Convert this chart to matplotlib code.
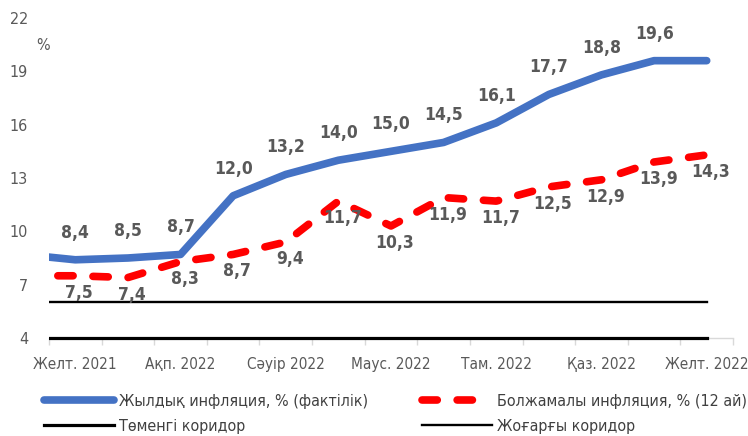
import matplotlib
matplotlib.use('Agg')
import matplotlib.pyplot as plt
from matplotlib.lines import Line2D
from matplotlib.patches import Rectangle

plt.rcParams['font.family'] = ['DejaVu Sans']
plt.rcParams['font.stretch'] = 'condensed'

# months, Nov 2021 sits just left of the visible area
months = ['Қар. 2021', 'Желт. 2021', 'Қаң. 2022', 'Ақп. 2022', 'Нау. 2022', 'Сәуір 2022',
          'Мам. 2022', 'Маус. 2022', 'Шілде 2022', 'Там. 2022', 'Қыр. 2022', 'Қаз. 2022',
          'Қар. 2022', 'Желт. 2022']
actual = [8.7, 8.4, 8.5, 8.7, 12.0, 13.2, 14.0, 14.5, 15.0, 16.1, 17.7, 18.8, 19.6, 19.6]
actual_labels = ['', '8,4', '8,5', '8,7', '12,0', '13,2', '14,0', '15,0', '14,5', '16,1',
                 '17,7', '18,8', '19,6', '']
expected = [7.5, 7.5, 7.4, 8.3, 8.7, 9.4, 11.7, 10.3, 11.9, 11.7, 12.5, 12.9, 13.9, 14.3]
lower_corridor = [4] * len(months)
upper_corridor = [6] * len(months)
y_ticks = [4, 7, 10, 13, 16, 19, 22]

names = ['Жылдық инфляция, % (фактілік)', 'Болжамалы инфляция, % (12 ай)',
         'Төменгі коридор', 'Жоғарғы коридор']

BLUE = '#4472C4'
RED = '#FF0000'
GREY_TXT = '#595959'

x = list(range(-1, len(months) - 1))

fig = plt.figure(figsize=(7.48, 4.36), dpi=100)
ax = fig.add_axes([49 / 748, 1 - 338 / 436, 684 / 748, 320 / 436])

clip = Rectangle((0, -0.05), 1, 1.1, transform=ax.transAxes, visible=False)
ax.add_patch(clip)

l_low, = ax.plot(x, lower_corridor, color='black', lw=2.3, zorder=3)
l_up, = ax.plot(x, upper_corridor, color='black', lw=1.7, zorder=3)
l_low.set_clip_path(clip)
l_up.set_clip_path(clip)

l_act, = ax.plot(x, actual, color=BLUE, lw=5.5, solid_capstyle='round',
                 solid_joinstyle='round', zorder=4)
l_exp, = ax.plot(x, expected, color=RED, lw=5.5, linestyle=(0, (2.0, 2.6)),
                 dash_capstyle='round', dash_joinstyle='round', zorder=4)

for xi, v, t in zip(x, actual, actual_labels):
    if t:
        ax.annotate(t, (xi, v), xytext=(0, 27), textcoords='offset pixels',
                    ha='center', va='center', fontsize=12.5, fontweight='bold',
                    color=GREY_TXT, zorder=5)
for xi, v in zip(x[1:], expected[1:]):
    ax.annotate(f'{v:.1f}'.replace('.', ','), (xi, v), xytext=(4, -17),
                textcoords='offset pixels', ha='center', va='center', fontsize=12.5,
                fontweight='bold', color=GREY_TXT, zorder=5)

ax.set_xlim(-0.5, len(months) - 1.5)
ax.set_ylim(4, 22)
ax.set_yticks(y_ticks)
ax.set_xticks(x[1::2])
ax.set_xticklabels(months[1::2])
ax.set_xticks([i + 0.5 for i in x], minor=True)

ax.tick_params(axis='x', which='major', length=0, pad=14, labelsize=11, labelcolor=GREY_TXT)
ax.tick_params(axis='x', which='minor', length=5, width=1, color='#D9D9D9')
ax.tick_params(axis='y', length=0, pad=15, labelsize=11.5, labelcolor=GREY_TXT)

for s in ['top', 'right', 'left']:
    ax.spines[s].set_visible(False)
ax.spines['bottom'].set_color('#D9D9D9')
ax.spines['bottom'].set_linewidth(1)

fig.text(43 / 748, 1 - 46 / 436, '%', ha='center', va='center', fontsize=11.5, color=GREY_TXT)

h_act = Line2D([], [], color=BLUE, lw=5.5, solid_capstyle='round')
h_exp = Line2D([], [], color=RED, lw=5.5, linestyle=(0, (2.0, 2.6)), dash_capstyle='round')
h_low = Line2D([], [], color='black', lw=2.3)
h_up = Line2D([], [], color='black', lw=1.7)

leg_kw = dict(loc='upper left', frameon=False, borderpad=0, borderaxespad=0,
              handlelength=4.4, handletextpad=0.3, labelspacing=0.62, fontsize=11.5,
              labelcolor='#404040')
fig.legend([h_act, h_low], [names[0], names[2]],
           bbox_to_anchor=(44 / 748, 1 - 394 / 436), **leg_kw)
fig.legend([h_exp, h_up], [names[1], names[3]],
           bbox_to_anchor=(422 / 748, 1 - 394 / 436), **leg_kw)

fig.savefig('out.png', dpi=100)
